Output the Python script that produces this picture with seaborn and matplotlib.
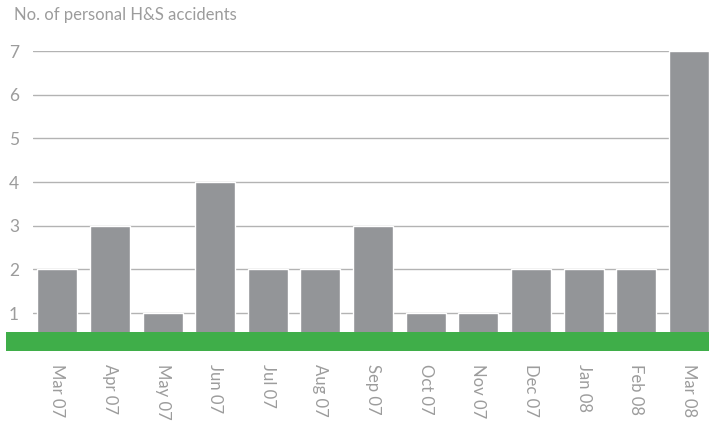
#!/usr/bin/env python3
"""Monthly count of personal H&S accidents, Mar 07 - Mar 08."""

import matplotlib.pyplot as plt
import pandas as pd
import seaborn as sns

MONTHS = ["Mar 07", "Apr 07", "May 07", "Jun 07", "Jul 07", "Aug 07",
          "Sep 07", "Oct 07", "Nov 07", "Dec 07", "Jan 08", "Feb 08", "Mar 08"]
ACCIDENTS = [2, 3, 1, 4, 2, 2, 3, 1, 1, 2, 2, 2, 7]
YTICKS = [1, 2, 3, 4, 5, 6, 7]

BAR_GREY = "#939598"
GREEN = "#3fae49"
TEXT_GREY = "#9c9c9c"


def main():
    sns.set_style("white")
    plt.rcParams["font.family"] = ["Lato", "DejaVu Sans"]

    df = pd.DataFrame({"month": MONTHS, "n": ACCIDENTS})

    fig = plt.figure(figsize=(7.09, 4.21), dpi=100)
    ax = fig.add_axes([33 / 709, 1 - 351 / 421, 1 - 33 / 709, 300 / 421])

    # Grid behind the bars
    for y in YTICKS:
        ax.axhline(y, color="#b3b3b3", lw=1.0, zorder=0)

    sns.barplot(data=df, x="month", y="n", color=BAR_GREY, width=0.76,
                saturation=1, ax=ax, zorder=2)

    ax.set_xlim(-0.46, len(MONTHS) - 1 + 0.38)
    ax.set_ylim(0.13, 7.0)

    # Green base strip running across the foot of the chart
    ax.axhspan(0.13, 0.565, xmin=-27 / 676, xmax=1.0, color=GREEN,
               zorder=3, clip_on=False, lw=0)

    ax.set_yticks(YTICKS)
    ax.set_yticklabels([str(v) for v in YTICKS], color=TEXT_GREY,
                       fontsize=12.5)
    ax.set_xticks(range(len(MONTHS)))
    ax.set_xticklabels(MONTHS, rotation=270, color=TEXT_GREY,
                       fontsize=12, va="top", ha="center")
    ax.tick_params(axis="y", length=0, pad=10)
    ax.tick_params(axis="x", length=0, pad=9)
    ax.set(xlabel="", ylabel="")
    for side in ax.spines.values():
        side.set_visible(False)

    fig.text(14 / 709, 1 - 15 / 421, "No. of personal H&S accidents",
             color=TEXT_GREY, fontsize=12, ha="left", va="center")

    fig.savefig("out.png", dpi=100)


if __name__ == "__main__":
    main()
